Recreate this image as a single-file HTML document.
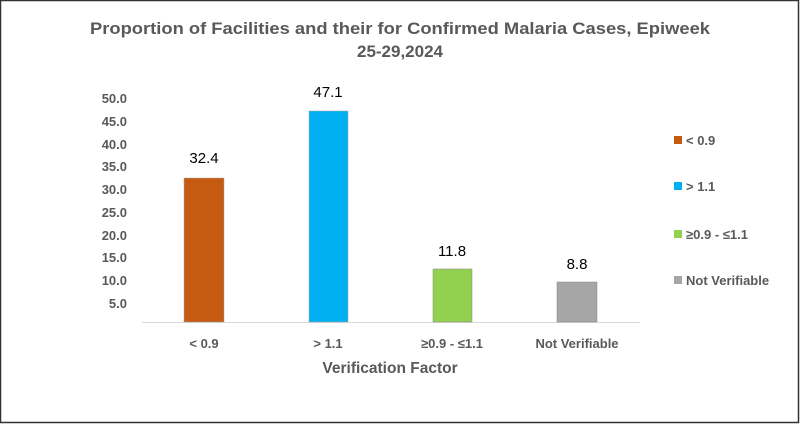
<!DOCTYPE html>
<html><head><style>
body{margin:0;width:800px;height:424px;background:#fff;overflow:hidden}
svg{display:block}
text{font-family:"Liberation Sans",sans-serif}
</style></head><body>
<svg width="800" height="424" viewBox="0 0 800 424">
<rect x="0.5" y="0.5" width="798" height="422" fill="#fff" stroke="#333" stroke-width="1.5"/>
<text x="400" y="34" text-anchor="middle" font-size="17" font-weight="bold" fill="#595959" textLength="620" lengthAdjust="spacingAndGlyphs">Proportion of Facilities and their for Confirmed Malaria Cases, Epiweek</text>
<text x="400" y="57" text-anchor="middle" font-size="17" font-weight="bold" fill="#595959">25-29,2024</text>
<g font-size="13" font-weight="bold" fill="#595959" text-anchor="end">
<text x="127" y="103">50.0</text><text x="127" y="126">45.0</text><text x="127" y="149">40.0</text>
<text x="127" y="171">35.0</text><text x="127" y="194">30.0</text><text x="127" y="217">25.0</text>
<text x="127" y="240">20.0</text><text x="127" y="262">15.0</text><text x="127" y="285">10.0</text>
<text x="127" y="308">5.0</text>
</g>
<line x1="142" y1="322.5" x2="640" y2="322.5" stroke="#d9d9d9" stroke-width="1"/>
<rect x="184" y="178" width="40" height="144" fill="#c55a11" stroke="#aaa" stroke-width="0.5"/>
<rect x="309" y="111" width="39" height="211" fill="#00b0f0" stroke="#aaa" stroke-width="0.5"/>
<rect x="433" y="269" width="39" height="53" fill="#92d050" stroke="#888" stroke-width="0.5"/>
<rect x="557" y="282" width="40" height="40" fill="#a6a6a6" stroke="#888" stroke-width="0.5"/>
<g font-size="15" fill="#000" text-anchor="middle">
<text x="204" y="163">32.4</text><text x="328" y="97">47.1</text>
<text x="452" y="256">11.8</text><text x="577" y="269">8.8</text>
</g>
<g font-size="13" font-weight="bold" fill="#595959" text-anchor="middle">
<text x="204" y="348">&lt; 0.9</text><text x="328" y="348">&gt; 1.1</text>
<text x="452" y="348">≥0.9 - ≤1.1</text><text x="577" y="348">Not Verifiable</text>
</g>
<text x="390" y="373" text-anchor="middle" font-size="15.5" font-weight="bold" fill="#595959">Verification Factor</text>
<g font-size="13" font-weight="bold" fill="#595959">
<rect x="674" y="136" width="8" height="8" fill="#c55a11"/><text x="686" y="145">&lt; 0.9</text>
<rect x="674" y="182" width="8" height="8" fill="#00b0f0"/><text x="686" y="191">&gt; 1.1</text>
<rect x="674" y="230" width="8" height="8" fill="#92d050"/><text x="686" y="239">≥0.9 - ≤1.1</text>
<rect x="674" y="276" width="8" height="8" fill="#a6a6a6"/><text x="686" y="285">Not Verifiable</text>
</g>
</svg>
</body></html>
